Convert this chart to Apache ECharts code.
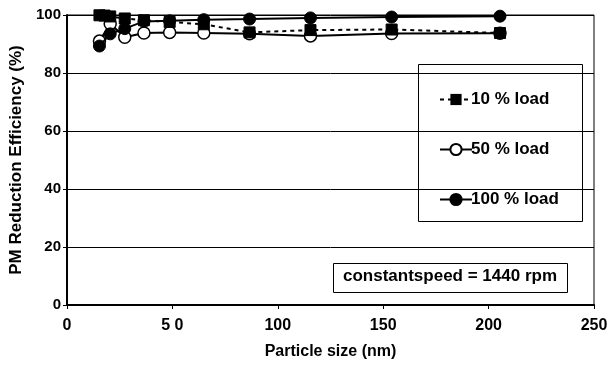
<!DOCTYPE html>
<html><head><meta charset="utf-8">
<script src="https://cdn.jsdelivr.net/npm/echarts@6/dist/echarts.min.js"></script>
<style>html,body{margin:0;padding:0;background:#fff}#c{width:610px;height:365px}</style>
</head><body><div id="c"></div>
<script>
const xLoad10 = [15.4, 17.8, 20.5, 27.4, 36.5, 48.7, 64.9, 86.6, 115.5, 154, 205.4];
const yLoad10 = [99.9, 99.8, 99.5, 98.8, 98.2, 97.6, 96.8, 94.0, 94.8, 95.0, 93.8];
const xCircle = [15.4, 20.5, 27.4, 36.5, 48.7, 64.9, 86.6, 115.5, 154, 205.4];
const yLoad50 = [91.0, 97.0, 92.3, 93.8, 94.0, 93.8, 93.5, 92.8, 93.6, 93.7];
const yLoad100 = [89.3, 93.5, 95.3, 97.8, 98.0, 98.4, 98.6, 99.0, 99.3, 99.6];
const xTickLabels = {0:'0',50:'5 0',100:'100',150:'150',200:'200',250:'250'};
const seriesNames = ['10 % load', '50 % load', '100 % load'];
const noteText = 'constantspeed = 1440 rpm';

const pair = (xs, ys) => xs.map((x, i) => [x, ys[i]]);
const FONT = 'Liberation Sans';
const chart = echarts.init(document.getElementById('c'));
chart.setOption({
  animation: false,
  backgroundColor: '#fff',
  grid: { left: 67, right: 16, top: 15, bottom: 60, show: true, borderColor: '#000', borderWidth: 1,
    containLabel: false, outerBoundsMode: 'none' },
  xAxis: {
    type: 'value', min: 0, max: 250, interval: 50,
    name: 'Particle size (nm)', nameLocation: 'middle', nameGap: 39,
    nameTextStyle: { fontFamily: FONT, fontWeight: 'bold', fontSize: 16, color: '#000' },
    axisLine: { lineStyle: { color: '#000', width: 2 } },
    axisTick: { show: true, inside: false, length: 4, lineStyle: { color: '#000', width: 1 } },
    axisLabel: { fontFamily: FONT, fontWeight: 'bold', fontSize: 16, color: '#000', margin: 13,
      formatter: v => xTickLabels[v] !== undefined ? xTickLabels[v] : String(v) },
    splitLine: { show: false }
  },
  yAxis: {
    type: 'value', min: 0, max: 100, interval: 20,
    name: 'PM Reduction Efficiency (%)', nameLocation: 'middle', nameGap: 40,
    nameTextStyle: { fontFamily: FONT, fontWeight: 'bold', fontSize: 17, color: '#000' },
    axisLine: { show: true, lineStyle: { color: '#000', width: 2 } },
    axisTick: { show: true, inside: false, length: 4, lineStyle: { color: '#000', width: 1 } },
    axisLabel: { fontFamily: FONT, fontWeight: 'bold', fontSize: 15, color: '#000', margin: 6 },
    splitLine: { show: true, lineStyle: { color: '#000', width: 1 } }
  },
  legend: {
    orient: 'vertical', left: 434, top: 86, itemGap: 33, itemWidth: 32, itemHeight: 14,
    data: seriesNames,
    textStyle: { fontFamily: FONT, fontWeight: 'bold', fontSize: 17, color: '#000', padding: [0,0,0,-6] }
  },
  graphic: [
    { type: 'rect', left: 418, top: 64, shape: { width: 164, height: 157 },
      style: { fill: 'rgba(255,255,255,0)', stroke: '#000', lineWidth: 1 }, z: 1 },
    { type: 'rect', left: 333, top: 263, shape: { width: 234, height: 29 },
      style: { fill: '#fff', stroke: '#000', lineWidth: 1 }, z: 10 },
    { type: 'text', left: 343, top: 268, z: 11,
      style: { text: noteText, fontFamily: FONT, fontWeight: 'bold', fontSize: 17, fill: '#000' } }
  ],
  series: [
    { name: seriesNames[1], type: 'line', data: pair(xCircle, yLoad50), z: 3,
      symbol: 'circle', symbolSize: 12,
      lineStyle: { color: '#000', width: 2 },
      itemStyle: { color: '#fff', borderColor: '#000', borderWidth: 1.5 } },
    { name: seriesNames[2], type: 'line', data: pair(xCircle, yLoad100), z: 4,
      symbol: 'circle', symbolSize: 12,
      lineStyle: { color: '#000', width: 2 },
      itemStyle: { color: '#000', borderColor: '#000', borderWidth: 1 } },
    { name: seriesNames[0], type: 'line', data: pair(xLoad10, yLoad10), z: 5,
      symbol: 'rect', symbolSize: 11,
      lineStyle: { color: '#000', width: 2, type: [4, 4] },
      itemStyle: { color: '#000', borderColor: '#000' } }
  ]
});
</script></body></html>
